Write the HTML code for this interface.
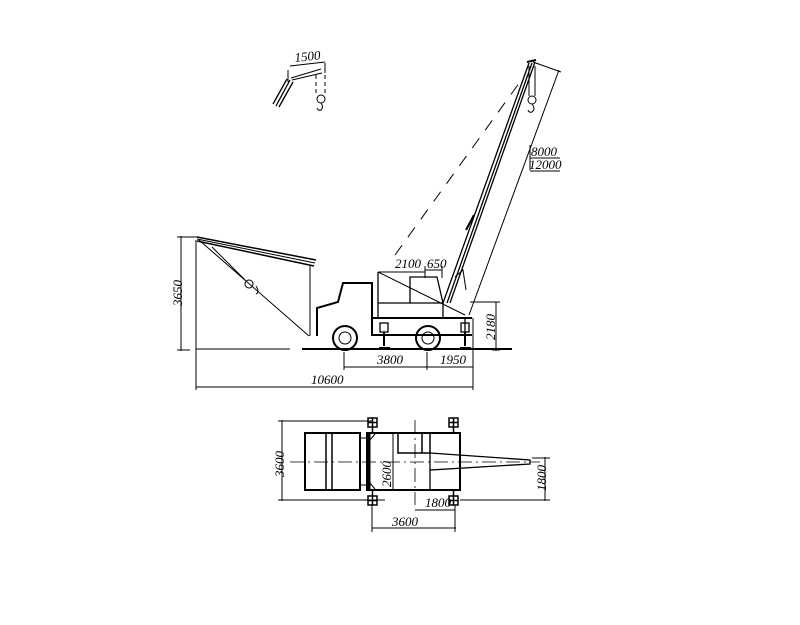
<!DOCTYPE html>
<html><head><style>body{margin:0;background:#fff}svg{display:block}text{font-family:"Liberation Serif",serif;font-style:italic;font-size:13px;fill:#000;stroke:none}</style></head><body>
<svg width="800" height="625" viewBox="0 0 800 625" stroke="#000" fill="none" stroke-width="1">
<!-- inset -->
<path d="M276,106 L290,80 M279,107 L293,82 M273,104 L287,79" stroke-width="1.3"/>
<path d="M292,80 L322,73 M291,78 L321,69"/>
<path d="M288,70 L288,82 M325,63 L325,73 M290,66 L325,62" />
<path d="M316,75 V95 M325,75 V95" stroke-dasharray="4,3"/>
<circle cx="321" cy="99" r="4"/><path d="M321,103 Q324,107 321,110 Q318,111 317,108"/>
<text x="295" y="62" transform="rotate(-6 295 62)">1500</text>
<!-- main boom -->
<path d="M443,303 L529,63 M447,303 L532,63 M450,303 L535,62" stroke-width="1.3"/>
<path d="M466,230 L474,215" stroke-width="2"/>
<path d="M527,62 L536,60" stroke-width="2"/>
<path d="M529,66 V96 M535,66 V96"/>
<circle cx="532" cy="100" r="4"/><path d="M532,104 Q536,109 532,112 Q529,113 528,110"/>
<path d="M395,255 L525,75" stroke-dasharray="12,10"/>
<path d="M559,70 L469,315 M533,62 L561,72"/>
<path d="M530,145 V170 M530,158 H560 M530,171 H560"/>
<text x="531" y="156">8000</text><text x="529" y="169">12000</text>
<!-- left boom -->
<path d="M197,237 L316,260 M197,241 L314,266" stroke-width="1.5"/>
<path d="M197,239 L315,263"/>
<path d="M310,266 V336"/>
<path d="M199,240 L309,336 M212,247 L245,280"/>
<circle cx="249" cy="284" r="4"/><path d="M256,286 Q260,292 256,294"/>
<!-- truck -->
<path d="M317,336 V308 L338,302 L343,283 L372,283 V336" stroke-width="2"/>
<path d="M372,318 H472 M372,335 H472" stroke-width="2"/>
<path d="M378,272 V318 M378,303 H443 M410,303 V277 H437 L443,303" stroke-width="1.3"/>
<path d="M378,272 L465,315"/>
<path d="M443,303 V318 M465,318 V335" stroke-width="1.3"/>
<path d="M455,277 L463,270 L466,290"/>
<circle cx="345" cy="338" r="12" stroke-width="2"/><circle cx="345" cy="338" r="6"/>
<circle cx="428" cy="338" r="12" stroke-width="2"/><circle cx="428" cy="338" r="6"/>
<rect x="380" y="323" width="8" height="9" stroke-width="1.3"/><path d="M384,332 V346 M379,348 H390" stroke-width="2"/>
<rect x="461" y="323" width="8" height="9" stroke-width="1.3"/><path d="M465,332 V346 M460,348 H471" stroke-width="2"/>
<path d="M302,349 H512" stroke-width="2"/><path d="M196,349 H290" />
<!-- dims side -->
<path d="M181,236 V351 M177,237 H197 M177,350 H190"/>
<text x="182" y="306" transform="rotate(-90 182 306)">3650</text>
<path d="M196,240 V390 M196,387 H473 M473,318 V390 M344,352 V370 M344,367 H473 M427,352 V370"/>
<text x="311" y="384">10600</text><text x="377" y="364">3800</text><text x="440" y="364">1950</text>
<path d="M496,302 V351 M470,302 H500 M492,350 H500"/>
<text x="495" y="340" transform="rotate(-90 495 340)">2180</text>
<path d="M378,272 H425 M425,270 H442 M425,266 V278 M442,266 V278"/>
<text x="395" y="268">2100</text><text x="427" y="268">650</text>
<!-- top view -->
<rect x="305" y="433" width="55" height="57" stroke-width="2"/>
<path d="M326,433 V490 M332,433 V490" stroke-width="1.5"/>
<path d="M360,438 H367 M360,485 H367"/>
<rect x="367" y="433" width="93" height="57" stroke-width="2"/>
<path d="M369,433 V490" stroke-width="3"/>
<path d="M369,441 L375,434 M369,482 L375,489 M393,433 V490"/>
<path d="M398,433 V453 H430 V433 M422,433 V453" stroke-width="1.5"/>
<path d="M430,453 L530,460 V464 L430,470 Z M430,470 V490" stroke-width="1.3"/>
<path d="M290,462 H540 M415,420 V505" stroke-dasharray="14,4,2,4" stroke-width="0.8"/>
<g stroke-width="1.5">
<rect x="368" y="418" width="9" height="9"/><path d="M372.5,418 V427 M368,422.5 H377 M372.5,427 V433"/>
<rect x="449" y="418" width="9" height="9"/><path d="M453.5,418 V427 M449,422.5 H458 M453.5,427 V433"/>
<rect x="368" y="496" width="9" height="9"/><path d="M372.5,496 V505 M368,500.5 H377 M372.5,490 V496"/>
<rect x="449" y="496" width="9" height="9"/><path d="M453.5,496 V505 M449,500.5 H458 M453.5,490 V496"/>
</g>
<path d="M282,420 V501 M278,421 H372 M278,500 H385 M460,500 H550 M545,457 V501 M532,458 H550"/>
<text x="284" y="477" transform="rotate(-90 284 477)">3600</text>
<text x="391" y="487" transform="rotate(-90 391 487)">2600</text>
<text x="546" y="491" transform="rotate(-90 546 491)">1800</text>
<path d="M415,510 H455 M372,505 V532 M455,505 V532 M372,528 H456"/>
<text x="425" y="507">1800</text><text x="392" y="526">3600</text>
</svg>
</body></html>
